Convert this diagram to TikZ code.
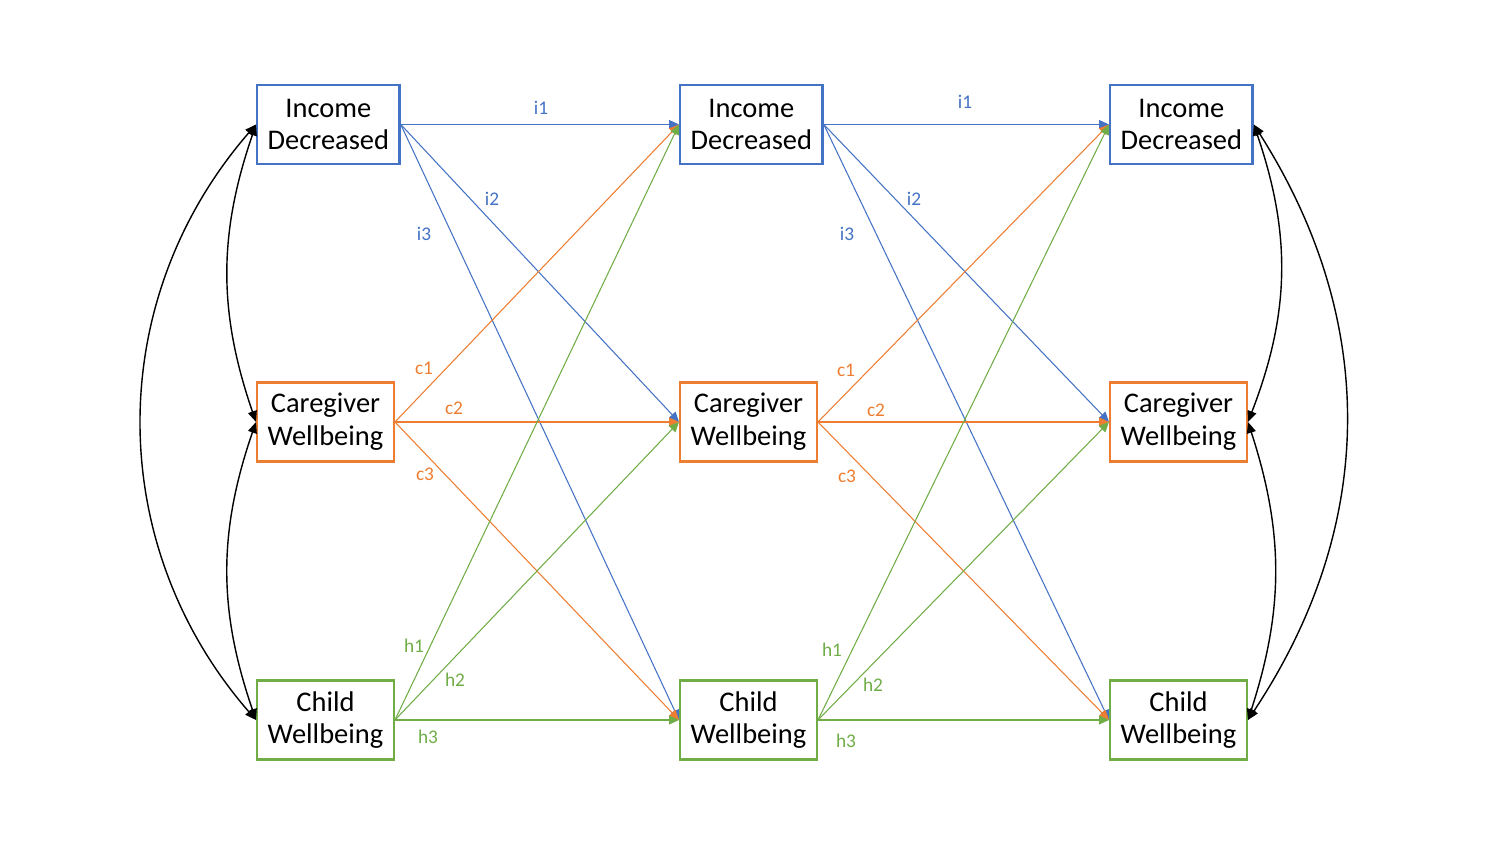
\documentclass[tikz,border=0pt]{standalone}
\usepackage{fontspec}
\setmainfont{Carlito}
\usetikzlibrary{arrows.meta}
\definecolor{incblue}{HTML}{4472C4}
\definecolor{careorange}{HTML}{ED7D31}
\definecolor{childgreen}{HTML}{70AD47}

\begin{document}
\begin{tikzpicture}[
    box/.style={draw, line width=0.7pt, fill=white, align=center, anchor=west,
      minimum height=0.79cm, inner xsep=0.105cm, inner ysep=0.05cm,
      font=\fontsize{8.1}{9.3}\selectfont},
    link/.style={line width=0.3pt, -{Triangle[length=1mm, width=0.9mm]}},
    corr/.style={line width=0.4pt, {Triangle[length=1.1mm, width=0.9mm]}-{Triangle[length=1.1mm, width=0.9mm]}},
    lbl/.style={font=\fontsize{5.5}{6.5}\selectfont}
  ]
  \useasboundingbox (0,0) rectangle (15,-8.44);

  % boxes, one column per wave
  \node[box, draw=incblue] (inc1) at (2.56,-1.245) {Income\\Decreased};
  \node[box, draw=careorange] (care1) at (2.56,-4.22) {Caregiver\\Wellbeing};
  \node[box, draw=childgreen] (child1) at (2.56,-7.20) {Child\\Wellbeing};

  \node[box, draw=incblue] (inc2) at (6.79,-1.245) {Income\\Decreased};
  \node[box, draw=careorange] (care2) at (6.79,-4.22) {Caregiver\\Wellbeing};
  \node[box, draw=childgreen] (child2) at (6.79,-7.20) {Child\\Wellbeing};

  \node[box, draw=incblue] (inc3) at (11.09,-1.245) {Income\\Decreased};
  \node[box, draw=careorange] (care3) at (11.09,-4.22) {Caregiver\\Wellbeing};
  \node[box, draw=childgreen] (child3) at (11.09,-7.20) {Child\\Wellbeing};

  % cross-lagged paths
  \foreach \a/\b in {1/2, 2/3} {
    \draw[link, incblue] (inc\a.east) -- (inc\b.west);
    \draw[link, incblue] (inc\a.east) -- (care\b.west);
    \draw[link, incblue] (inc\a.east) -- (child\b.west);
    \draw[link, careorange] (care\a.east) -- (inc\b.west);
    \draw[link, careorange] (care\a.east) -- (care\b.west);
    \draw[link, careorange] (care\a.east) -- (child\b.west);
    \draw[link, childgreen] (child\a.east) -- (inc\b.west);
    \draw[link, childgreen] (child\a.east) -- (care\b.west);
    \draw[link, childgreen] (child\a.east) -- (child\b.west);
  }

  % path labels
  \node[lbl, incblue] (i1a) at (5.41,-1.08) {i1};
  \node[lbl, incblue] (i2a) at (4.92,-1.99) {i2};
  \node[lbl, incblue] (i3a) at (4.24,-2.34) {i3};
  \node[lbl, careorange] (c1a) at (4.24,-3.68) {c1};
  \node[lbl, careorange] (c2a) at (4.54,-4.08) {c2};
  \node[lbl, careorange] (c3a) at (4.25,-4.74) {c3};
  \node[lbl, childgreen] (h1a) at (4.14,-6.46) {h1};
  \node[lbl, childgreen] (h2a) at (4.55,-6.80) {h2};
  \node[lbl, childgreen] (h3a) at (4.28,-7.37) {h3};

  \node[lbl, incblue] (i1b) at (9.65,-1.02) {i1};
  \node[lbl, incblue] (i2b) at (9.14,-1.99) {i2};
  \node[lbl, incblue] (i3b) at (8.47,-2.34) {i3};
  \node[lbl, careorange] (c1b) at (8.46,-3.70) {c1};
  \node[lbl, careorange] (c2b) at (8.76,-4.10) {c2};
  \node[lbl, careorange] (c3b) at (8.47,-4.76) {c3};
  \node[lbl, childgreen] (h1b) at (8.32,-6.50) {h1};
  \node[lbl, childgreen] (h2b) at (8.73,-6.85) {h2};
  \node[lbl, childgreen] (h3b) at (8.46,-7.41) {h3};

  % correlations within a wave
  \draw[corr] (inc1.west) to[bend right=19] (care1.west);
  \draw[corr] (care1.west) to[bend right=19] (child1.west);
  \draw[corr] (inc1.west) to[bend right=41] (child1.west);

  \draw[corr] (inc3.east) to[bend left=20] (care3.east);
  \draw[corr] (care3.east) to[bend left=18] (child3.east);
  \draw[corr] (inc3.east) to[bend left=33] (child3.east);
\end{tikzpicture}
\end{document}
